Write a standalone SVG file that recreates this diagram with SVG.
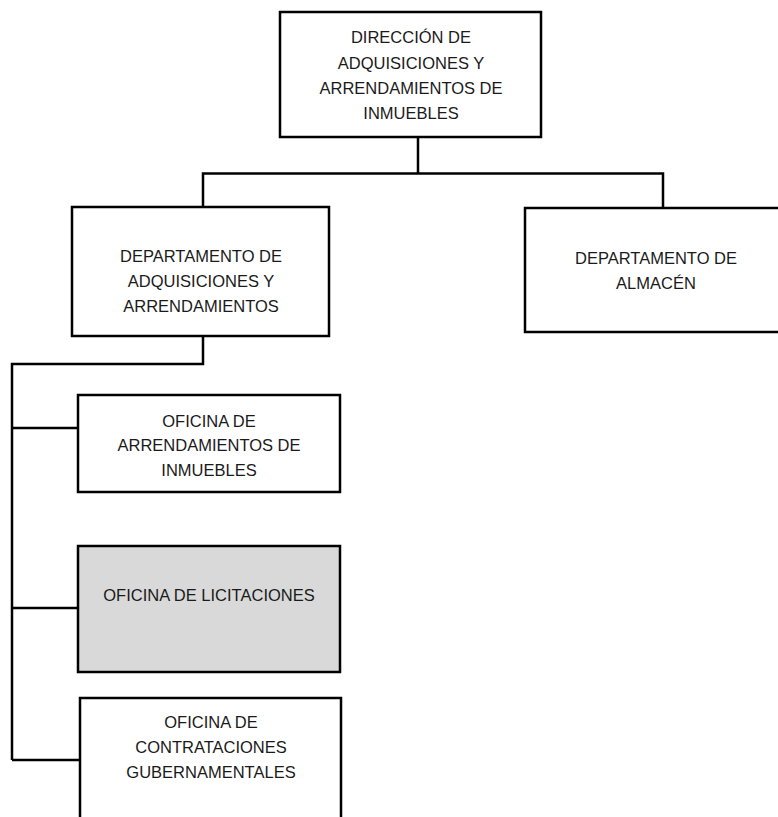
<svg xmlns="http://www.w3.org/2000/svg" width="778" height="817" viewBox="0 0 778 817">
  <style>
    .box { fill: #ffffff; stroke: #000000; stroke-width: 2.5; }
    .box.grey { fill: #d9d9d9; }
    .lbl { font-family: "Liberation Sans", Arial, sans-serif; font-size: 16.5px; fill: #1a1a1a; text-anchor: middle; }
    .conn { fill: none; stroke: #000000; stroke-width: 2.5; stroke-linejoin: miter; }
  </style>
  <rect width="778" height="817" fill="#ffffff"/>

  <!-- connectors -->
  <g id="connectors">
    <path class="conn" d="M418 137 V173.5 M203 207 V173.5 H663 V208"/>
    <path class="conn" d="M203 336 V364 H12 V760"/>
    <path class="conn" d="M12 428 H78 M12 608 H78 M12 760 H80"/>
  </g>

  <g id="direccion">
    <rect class="box" x="280" y="12" width="261" height="125"/>
    <text class="lbl" x="411" y="43">DIRECCIÓN DE</text>
    <text class="lbl" x="411" y="69">ADQUISICIONES Y</text>
    <text class="lbl" x="411" y="94">ARRENDAMIENTOS DE</text>
    <text class="lbl" x="411" y="119">INMUEBLES</text>
  </g>

  <g id="depto-adquisiciones">
    <rect class="box" x="72" y="207" width="257" height="129"/>
    <text class="lbl" x="201" y="262">DEPARTAMENTO DE</text>
    <text class="lbl" x="201" y="287">ADQUISICIONES Y</text>
    <text class="lbl" x="201" y="312">ARRENDAMIENTOS</text>
  </g>

  <g id="depto-almacen">
    <rect class="box" x="525" y="208" width="255" height="124"/>
    <text class="lbl" x="656" y="264">DEPARTAMENTO DE</text>
    <text class="lbl" x="656" y="289">ALMACÉN</text>
  </g>

  <g id="oficina-arrendamientos">
    <rect class="box" x="78" y="395" width="262" height="97"/>
    <text class="lbl" x="209" y="427">OFICINA DE</text>
    <text class="lbl" x="209" y="451">ARRENDAMIENTOS DE</text>
    <text class="lbl" x="209" y="476">INMUEBLES</text>
  </g>

  <g id="oficina-licitaciones">
    <rect class="box grey" x="78" y="546" width="262" height="126"/>
    <text class="lbl" x="209" y="601">OFICINA DE LICITACIONES</text>
  </g>

  <g id="oficina-contrataciones">
    <rect class="box" x="80" y="698" width="261" height="130"/>
    <text class="lbl" x="211" y="728">OFICINA DE</text>
    <text class="lbl" x="211" y="753">CONTRATACIONES</text>
    <text class="lbl" x="211" y="778">GUBERNAMENTALES</text>
  </g>
</svg>
